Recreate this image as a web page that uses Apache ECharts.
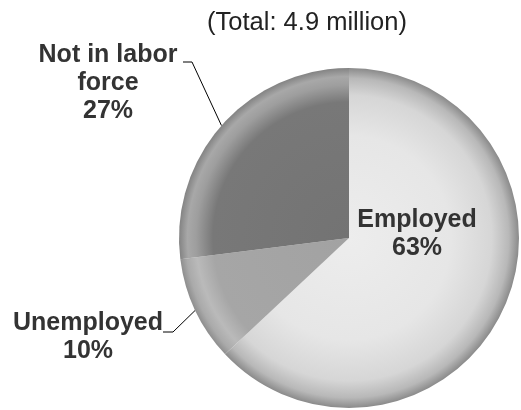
<!DOCTYPE html>
<html>
<head>
<meta charset="utf-8">
<script src="https://cdn.jsdelivr.net/npm/echarts@6/dist/echarts.min.js"></script>
<style>
  html, body { margin: 0; padding: 0; background: #ffffff; }
  #chart { width: 521px; height: 410px; }
</style>
</head>
<body>
<div id="chart"></div>
<script>
// Labor force status, shares of total population group
const titleText = '(Total: 4.9 million)';
const categories = ['Employed', 'Unemployed', 'Not in labor\nforce'];
const shares = [63, 10, 27];

// Pie geometry (pixels)
const CX = 349, CY = 238, R = 170;

// Radial shading per slice: flat body, lit/shaded rim
function rimShade(stops) {
  return {
    type: 'radial', x: CX, y: CY, r: R, global: true,
    colorStops: stops.map(function (s) { return { offset: s[0], color: s[1] }; })
  };
}
const sliceFills = [
  rimShade([[0, '#ededed'], [0.6, '#e6e6e6'], [0.84, '#d6d6d6'], [0.94, '#b8b8b8'], [1, '#8a8a8a']]),
  rimShade([[0, '#a2a2a2'], [0.8, '#a6a6a6'], [0.9, '#bababa'], [0.96, '#aaaaaa'], [1, '#8e8e8e']]),
  rimShade([[0, '#737373'], [0.8, '#787878'], [0.9, '#9e9e9e'], [0.95, '#a8a8a8'], [1, '#838383']])
];

// Label anchors and leader-line bends
const labelSpots = [
  { x: 417, y: 234 },
  { x: 88, y: 337, bend: [173, 332], end: [163, 332] },
  { x: 108, y: 83, bend: [192, 62], end: [183, 62] }
];

const chart = echarts.init(document.getElementById('chart'), null, { renderer: 'canvas' });

chart.setOption({
  animation: false,
  backgroundColor: '#ffffff',
  title: {
    text: titleText,
    left: 302,
    top: 5,
    textAlign: 'center',
    textStyle: {
      fontFamily: 'Liberation Sans, Arial, sans-serif',
      fontSize: 25.5,
      fontWeight: 'normal',
      color: '#222222'
    }
  },
  series: [{
    type: 'pie',
    center: [CX, CY],
    radius: R,
    startAngle: 90,
    clockwise: true,
    avoidLabelOverlap: false,
    emphasis: { disabled: true },
    itemStyle: { borderWidth: 0 },
    label: {
      show: true,
      position: 'outside',
      formatter: '{b}\n{c}%',
      fontFamily: 'Liberation Sans, Arial, sans-serif',
      fontSize: 25,
      fontWeight: 'bold',
      lineHeight: 28,
      color: '#333333',
      align: 'center'
    },
    labelLine: {
      show: true,
      length: 20,
      length2: 10,
      lineStyle: { color: '#000000', width: 1 }
    },
    labelLayout: function (params) {
      const spot = labelSpots[params.dataIndex];
      const out = { x: spot.x, y: spot.y, align: 'center', verticalAlign: 'middle' };
      if (spot.bend && params.labelLinePoints) {
        out.labelLinePoints = [params.labelLinePoints[0], spot.bend, spot.end];
      }
      return out;
    },
    data: categories.map(function (name, i) {
      const item = { name: name, value: shares[i], itemStyle: { color: sliceFills[i] } };
      if (i === 0) {
        item.label = { position: 'inside' };
        item.labelLine = { show: false };
      }
      return item;
    })
  }]
});
</script>
</body>
</html>
